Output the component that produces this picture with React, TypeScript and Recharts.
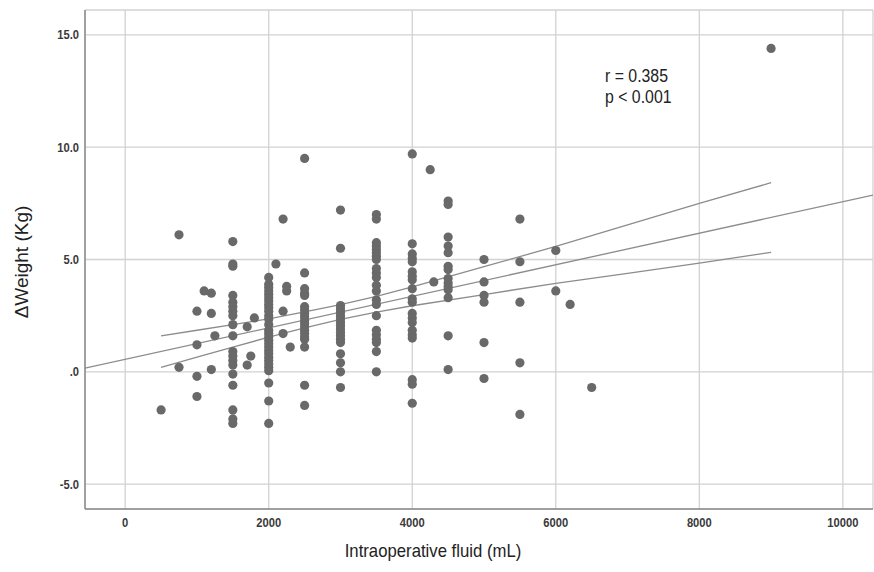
import React from 'react';
import { ScatterChart, Scatter, XAxis, YAxis, CartesianGrid } from 'recharts';

// fluid volumes (mL) where patients are stacked, and the weight changes (kg) read at each one
const fluidLevels = [
  500, 750, 1000, 1100, 1200, 1250, 1500, 1700, 1750, 1800, 2000, 2100, 2200, 2250, 2300,
  2500, 3000, 3500, 4000, 4250, 4300, 4500, 5000, 5500, 6000, 6200, 6500, 9000,
];
const weightsByLevel = [
  [-1.7],
  [6.1, 0.2],
  [2.7, 1.2, -0.2, -1.1],
  [3.6],
  [3.5, 2.6, 0.1],
  [1.6],
  [5.8, 4.8, 4.7, 3.4, 3.1, 2.9, 2.7, 2.5, 2.1, 1.6, 0.9, 0.7, 0.5, 0.3, -0.1, -0.6, -1.7, -2.1, -2.3],
  [2.0, 0.3],
  [0.7],
  [2.4],
  [
    4.2, 3.9, 3.75, 3.6, 3.45, 3.3, 3.15, 3.0, 2.85, 2.7, 2.5, 2.35, 2.1, 1.85, 1.7, 1.55, 1.4,
    1.25, 1.1, 0.95, 0.8, 0.65, 0.5, 0.35, 0.2, 0.05, -0.5, -1.3, -2.3,
  ],
  [4.8],
  [6.8, 2.7, 1.7],
  [3.8, 3.6],
  [1.1],
  [9.5, 4.4, 3.7, 3.5, 3.4, 2.9, 2.75, 2.6, 2.45, 2.3, 2.15, 2.0, 1.85, 1.7, 1.55, 1.45, 1.1, -0.6, -1.5],
  [7.2, 5.5, 2.95, 2.8, 2.65, 2.5, 2.35, 2.2, 2.05, 1.9, 1.75, 1.6, 1.45, 1.3, 0.8, 0.4, 0.0, -0.7],
  [7.0, 6.8, 5.75, 5.6, 5.45, 5.3, 5.15, 5.0, 4.6, 4.4, 4.2, 3.85, 3.6, 3.2, 3.0, 2.5, 1.85, 1.65, 1.45, 1.3, 0.9, 0.0],
  [9.7, 5.7, 5.25, 5.05, 4.9, 4.45, 4.25, 4.1, 3.7, 3.25, 3.1, 2.6, 2.4, 2.2, 1.85, 1.65, 1.5, -0.35, -0.55, -1.4],
  [9.0],
  [4.0],
  [7.6, 7.45, 6.0, 5.6, 5.3, 4.7, 4.55, 4.15, 3.95, 3.8, 3.65, 3.3, 1.6, 0.1],
  [5.0, 4.0, 3.4, 3.1, 1.3, -0.3],
  [6.8, 4.9, 3.1, 0.4, -1.9],
  [5.4, 3.6],
  [3.0],
  [-0.7],
  [14.4],
];

// fit line and the 95% band of the mean
const fitX = [-560, 10420];
const fitY = [0.16, 7.87];
const bandX = [500, 1000, 1500, 2000, 2500, 3000, 3500, 4000, 5000, 6000, 7000, 8000, 9000];
const bandUpper = [1.6, 1.85, 2.1, 2.36, 2.67, 2.99, 3.36, 3.78, 4.68, 5.58, 6.54, 7.5, 8.42];
const bandLower = [0.2, 0.65, 1.1, 1.54, 1.95, 2.33, 2.66, 2.94, 3.44, 3.94, 4.38, 4.84, 5.32];

const xTicks = [0, 2000, 4000, 6000, 8000, 10000];
const yTicks = [-5, 0, 5, 10, 15];

const points = fluidLevels.flatMap((x, i) => weightsByLevel[i].map((y) => ({ x, y })));
const fitLine = fitX.map((x, i) => ({ x, y: fitY[i] }));
const upperLine = bandX.map((x, i) => ({ x, y: bandUpper[i] }));
const lowerLine = bandX.map((x, i) => ({ x, y: bandLower[i] }));

const FONT = '"Liberation Sans", Arial, sans-serif';
const lineStyle = { stroke: '#8c8c8c', strokeWidth: 1.3 };

const fmtY = (v: number) => (v === 0 ? '.0' : v.toFixed(1));

const XTick = (props: any) => {
  const { x, y, payload } = props;
  return (
    <text
      transform={`translate(${x},${y}) scale(0.86,1)`}
      textAnchor="middle"
      dy="0.71em"
      fontSize={13}
      fontWeight="bold"
      fontFamily={FONT}
      fill="#3a3a3a"
    >
      {payload.value}
    </text>
  );
};

const YTick = (props: any) => {
  const { x, y, payload } = props;
  return (
    <text
      transform={`translate(${x},${y}) scale(0.86,1)`}
      textAnchor="end"
      dy="0.35em"
      fontSize={13}
      fontWeight="bold"
      fontFamily={FONT}
      fill="#3a3a3a"
    >
      {fmtY(payload.value)}
    </text>
  );
};

const Dot = (props: any) => <circle cx={props.cx} cy={props.cy} r={4.6} fill="#696969" />;
const NoDot = () => <g />;

export default function App() {
  return (
    <div
      style={{
        position: 'absolute',
        left: 0,
        top: 0,
        width: 874,
        height: 572,
        background: '#fff',
        fontFamily: FONT,
      }}
    >
      <ScatterChart width={874} height={572} margin={{ top: 10, right: 1, bottom: 0, left: 0 }}>
        <CartesianGrid stroke="#d2d2d2" strokeWidth={1.3} />
        <XAxis
          type="number"
          dataKey="x"
          domain={[-560, 10420]}
          ticks={xTicks}
          interval={0}
          allowDataOverflow
          height={63}
          tickLine={false}
          tickSize={6}
          tickMargin={3}
          axisLine={{ stroke: '#8a8a8a', strokeWidth: 1.5 }}
          tick={<XTick />}
        />
        <YAxis
          type="number"
          dataKey="y"
          domain={[-6.11, 16.11]}
          ticks={yTicks}
          interval={0}
          allowDataOverflow
          width={85}
          tickLine={false}
          tickSize={2}
          tickMargin={4}
          axisLine={{ stroke: '#8a8a8a', strokeWidth: 1.5 }}
          tick={<YTick />}
        />
        <Scatter data={fitLine} line={lineStyle} shape={NoDot} legendType="none" isAnimationActive={false} />
        <Scatter
          data={upperLine}
          line={lineStyle}
          lineType="joint"
          shape={NoDot}
          legendType="none"
          isAnimationActive={false}
        />
        <Scatter
          data={lowerLine}
          line={lineStyle}
          lineType="joint"
          shape={NoDot}
          legendType="none"
          isAnimationActive={false}
        />
        <Scatter data={points} shape={Dot} isAnimationActive={false} />
      </ScatterChart>

      {/* correlation note */}
      <div
        style={{
          position: 'absolute',
          left: 605,
          top: 66,
          fontSize: 18,
          lineHeight: '21px',
          color: '#222',
          transform: 'scaleX(0.88)',
          transformOrigin: 'left top',
          whiteSpace: 'nowrap',
        }}
      >
        r = 0.385
        <br />p &lt; 0.001
      </div>

      {/* axis titles */}
      <div
        style={{
          position: 'absolute',
          left: 233,
          width: 400,
          top: 539,
          textAlign: 'center',
          fontSize: 19,
          lineHeight: '24px',
          color: '#222',
          transform: 'scaleX(0.88)',
          whiteSpace: 'nowrap',
        }}
      >
        Intraoperative fluid (mL)
      </div>
      <div
        style={{
          position: 'absolute',
          left: 22 - 100,
          width: 200,
          top: 262 - 12,
          textAlign: 'center',
          fontSize: 19,
          lineHeight: '24px',
          color: '#222',
          transform: 'rotate(-90deg)',
          whiteSpace: 'nowrap',
        }}
      >
        ΔWeight (Kg)
      </div>
    </div>
  );
}
